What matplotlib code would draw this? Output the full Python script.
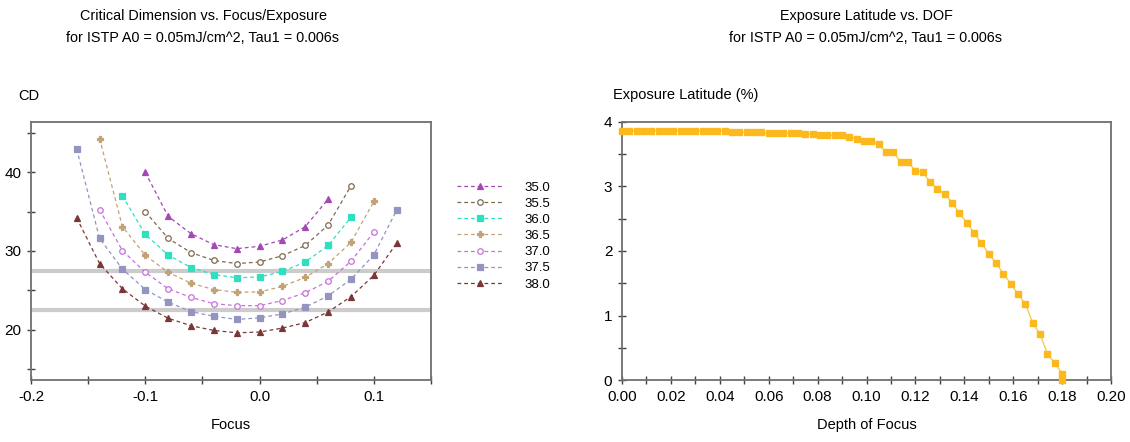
import matplotlib
matplotlib.use("Agg")
import matplotlib.pyplot as plt
from matplotlib.ticker import MultipleLocator, FormatStrFormatter

plt.rcParams['font.family'] = ['Liberation Sans', 'DejaVu Sans']

# CD vs focus, one curve per exposure dose
focus_a = [-0.10, -0.08, -0.06, -0.04, -0.02, 0.00, 0.02, 0.04, 0.06]
focus_b = [-0.10, -0.08, -0.06, -0.04, -0.02, 0.00, 0.02, 0.04, 0.06, 0.08]
focus_c = [-0.12, -0.10, -0.08, -0.06, -0.04, -0.02, 0.00, 0.02, 0.04, 0.06, 0.08]
focus_d = [-0.14, -0.12, -0.10, -0.08, -0.06, -0.04, -0.02, 0.00, 0.02, 0.04, 0.06, 0.08, 0.10]
focus_e = [-0.16, -0.14, -0.12, -0.10, -0.08, -0.06, -0.04, -0.02, 0.00, 0.02, 0.04,
           0.06, 0.08, 0.10, 0.12]

cd_350 = [40.0, 34.4, 32.2, 30.8, 30.3, 30.6, 31.4, 33.1, 36.6]
cd_355 = [35.0, 31.6, 29.8, 28.8, 28.4, 28.6, 29.4, 30.7, 33.3, 38.3]
cd_360 = [37.0, 32.1, 29.5, 27.9, 27.0, 26.6, 26.7, 27.4, 28.6, 30.7, 34.3]
cd_365 = [44.3, 33.1, 29.45, 27.3, 25.9, 25.1, 24.75, 24.8, 25.5, 26.65, 28.4, 31.1, 36.3]
cd_370 = [35.25, 30.05, 27.3, 25.2, 24.1, 23.3, 23.05, 23.05, 23.7, 24.7, 26.15, 28.7, 32.4]
cd_375 = [42.96, 31.6, 27.7, 25.1, 23.5, 22.3, 21.7, 21.3, 21.5, 22.0, 22.85, 24.3, 26.4,
          29.5, 35.2]
cd_380 = [34.2, 28.4, 25.2, 23.0, 21.45, 20.5, 19.9, 19.6, 19.7, 20.2, 20.9, 22.25, 24.2,
          26.9, 31.0]

dose_labels = ['35.0', '35.5', '36.0', '36.5', '37.0', '37.5', '38.0']
cd_limits = [27.5, 22.5]

# exposure latitude vs depth of focus
dof = [0.000, 0.003, 0.006, 0.009, 0.012, 0.015, 0.018, 0.021, 0.024, 0.027,
       0.030, 0.033, 0.036, 0.039, 0.042, 0.045, 0.048, 0.051, 0.054, 0.057,
       0.060, 0.063, 0.066, 0.069, 0.072, 0.075, 0.078, 0.081, 0.084, 0.087,
       0.090, 0.093, 0.096, 0.099, 0.102, 0.105, 0.108, 0.111, 0.114, 0.117,
       0.120, 0.123, 0.126, 0.129, 0.132, 0.135, 0.138, 0.141, 0.144, 0.147,
       0.150, 0.153, 0.156, 0.159, 0.162, 0.165, 0.168, 0.171, 0.174, 0.177,
       0.180, 0.180]
el = [3.865, 3.865, 3.865, 3.865, 3.865, 3.865, 3.865, 3.865, 3.865, 3.865,
      3.865, 3.865, 3.865, 3.865, 3.865, 3.845, 3.845, 3.845, 3.845, 3.845,
      3.825, 3.825, 3.825, 3.825, 3.825, 3.81, 3.81, 3.80, 3.80, 3.80,
      3.80, 3.77, 3.74, 3.705, 3.705, 3.66, 3.53, 3.53, 3.38, 3.375,
      3.245, 3.225, 3.07, 2.96, 2.89, 2.75, 2.59, 2.44, 2.28, 2.12,
      1.96, 1.81, 1.65, 1.49, 1.33, 1.18, 0.88, 0.71, 0.41, 0.26,
      0.10, 0.0]

series = [
    (focus_a, cd_350, '#a547b5', '^', True),
    (focus_b, cd_355, '#7f6a4e', 'o', False),
    (focus_c, cd_360, '#2fe0c0', 's', True),
    (focus_d, cd_365, '#c2a276', 'P', True),
    (focus_d, cd_370, '#c672d8', 'o', False),
    (focus_e, cd_375, '#9494c0', 's', True),
    (focus_e, cd_380, '#7b3636', '^', True),
]

fig = plt.figure(figsize=(11.3, 4.42), dpi=100)
ax1 = fig.add_axes([31/1130, 62/442, 400/1130, 258/442])
ax2 = fig.add_axes([622/1130, 62/442, 489/1130, 258/442])

for y in cd_limits:
    ax1.axhline(y, color='#cccccc', lw=3, zorder=1)

for (x, y, c, m, filled), lab in zip(series, dose_labels):
    ax1.plot(x, y, color=c, lw=0.9, dashes=(3, 2.4), marker=m, markersize=4,
             markerfacecolor=c if filled else 'white', markeredgecolor=c,
             markeredgewidth=0.9, label=lab, zorder=3)

ax1.set_xlim(-0.2, 0.15)
ax1.set_ylim(13.6, 46.4)
ax1.xaxis.set_major_locator(MultipleLocator(0.1))
ax1.xaxis.set_minor_locator(MultipleLocator(0.05))
ax1.yaxis.set_major_locator(MultipleLocator(10))
ax1.yaxis.set_minor_locator(MultipleLocator(5))
ax1.xaxis.set_major_formatter(FormatStrFormatter('%.1f'))
ax1.set_xlabel('Focus', fontsize=10.5, labelpad=10)

leg = ax1.legend(loc='upper left', bbox_to_anchor=(452/1130, 1 - 176/442),
                 bbox_transform=fig.transFigure, frameon=False, fontsize=9.5,
                 handlelength=3.4, handletextpad=1.7, labelspacing=0.3,
                 borderaxespad=0)

ax2.plot(dof, el, color='#f5cc55', lw=1.0, marker='s', markersize=4.2,
         markerfacecolor='#fbb91e', markeredgecolor='#fbb91e', zorder=3,
         clip_on=False)
ax2.set_xlim(0, 0.2)
ax2.set_ylim(0, 4)
ax2.xaxis.set_major_locator(MultipleLocator(0.02))
ax2.xaxis.set_minor_locator(MultipleLocator(0.01))
ax2.yaxis.set_major_locator(MultipleLocator(1))
ax2.yaxis.set_minor_locator(MultipleLocator(0.5))
ax2.xaxis.set_major_formatter(FormatStrFormatter('%.2f'))
ax2.set_xlabel('Depth of Focus', fontsize=10.5, labelpad=10)

for ax in (ax1, ax2):
    for s in ax.spines.values():
        s.set_color('#707070')
        s.set_linewidth(1.3)
    ax.tick_params(which='both', direction='inout', length=6, width=1,
                   color='#404040', labelsize=11, pad=4)

title_2 = 'for ISTP A0 = 0.05mJ/cm^2, Tau1 = 0.006s'
fig.text(203/1130, 1 - 16/442, 'Critical Dimension vs. Focus/Exposure',
         ha='center', va='center', fontsize=10.4)
fig.text(203/1130, 1 - 38/442, title_2, ha='center', va='center', fontsize=10.4)
fig.text(866/1130, 1 - 16/442, 'Exposure Latitude vs. DOF',
         ha='center', va='center', fontsize=10.4)
fig.text(866/1130, 1 - 38/442, title_2, ha='center', va='center', fontsize=10.4)

fig.text(18/1130, 1 - 96/442, 'CD', ha='left', va='center', fontsize=10.5)
fig.text(613/1130, 1 - 95/442, 'Exposure Latitude (%)', ha='left', va='center',
         fontsize=10.5)

fig.savefig('out.png', dpi=100)
